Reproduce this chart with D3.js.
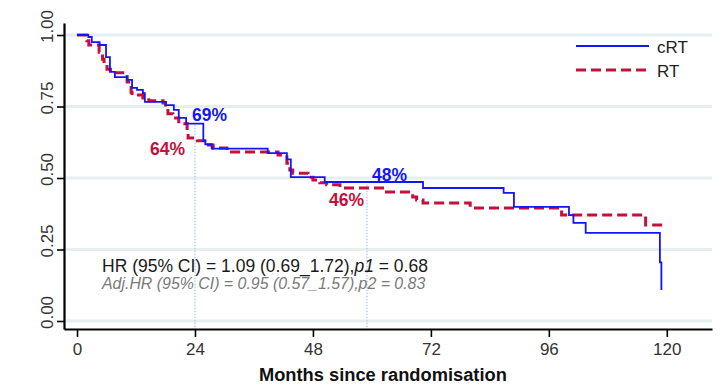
<!DOCTYPE html>
<html>
<head>
<meta charset="utf-8">
<script src="https://cdn.jsdelivr.net/npm/d3@7"></script>
<style>
  html, body { margin: 0; padding: 0; background: #fff; }
  svg { display: block; font-family: "Liberation Sans", Arial, Helvetica, sans-serif; }
</style>
</head>
<body>
<svg id="chart" width="720" height="385"></svg>
<script>
// Kaplan–Meier survival, cRT vs RT
const crtTime = [0, 2.3, 3.0, 4.6, 5.9, 6.7, 7.7, 10.2, 11.2, 12.2, 13.4, 13.8, 18.1, 19.7, 20.7, 22.2,
                 25.7, 26.1, 27.4, 38.8, 42.7, 43.5, 50.4, 70.4, 86.8, 88.9, 100.1, 101.0, 103.5, 118.6, 118.9];
const crtSurv = [1.0, 0.993, 0.975, 0.965, 0.923, 0.871, 0.853, 0.843, 0.815, 0.808, 0.797, 0.766, 0.755, 0.738, 0.71, 0.69,
                 0.63, 0.618, 0.603, 0.587, 0.565, 0.503, 0.486, 0.465, 0.448, 0.399, 0.37, 0.343, 0.308, 0.205, 0.108];

const rtTime = [0, 2.0, 2.4, 4.5, 5.2, 5.5, 6.1, 6.8, 10.2, 11.0, 11.2, 13.4, 14.6, 17.5, 18.0, 18.5, 19.5, 20.7,
                22.4, 22.6, 24.5, 26.0, 27.7, 30.5, 40.9, 42.7, 43.3, 43.9, 47.0, 48.0, 49.4, 50.8, 53.5, 62.6,
                68.3, 69.1, 70.4, 80.0, 98.6, 115.7, 119.2];
const rtSurv = [1.0, 0.98, 0.965, 0.94, 0.915, 0.90, 0.88, 0.868, 0.836, 0.80, 0.79, 0.78, 0.77, 0.762, 0.745, 0.725, 0.71, 0.69,
                0.665, 0.64, 0.63, 0.615, 0.605, 0.591, 0.58, 0.552, 0.528, 0.517, 0.503, 0.493, 0.483, 0.476, 0.465, 0.451,
                0.434, 0.423, 0.413, 0.395, 0.371, 0.336, 0.336];

// Landmark survival estimates
const landmarkMonths = [24, 59];
const crtLandmark = [0.69, 0.48];
const rtLandmark = [0.64, 0.46];

const xTicks = [0, 24, 48, 72, 96, 120];
const yTicks = [0, 0.25, 0.5, 0.75, 1];
const seriesNames = ["cRT", "RT"];
const xTitle = "Months since randomisation";
const statLines = ["HR (95% CI) = 1.09 (0.69_1.72),", "Adj.HR (95% CI) = 0.95 (0.57_1.57),p2 = 0.83"];

const svg = d3.select("#chart");

const x = d3.scaleLinear().domain([-2.65, 129.2]).range([64, 712]);
const y = d3.scaleLinear().domain([-0.028, 1.042]).range([329, 23]);

const BLUE = "#1414ff";
const RED = "#c4103a";

// gridlines
svg.append("g")
  .selectAll("line")
  .data(yTicks)
  .join("line")
  .attr("x1", x.range()[0]).attr("x2", x.range()[1])
  .attr("y1", d => y(d)).attr("y2", d => y(d))
  .attr("stroke", "#e6eef0")
  .attr("stroke-width", 3);

// landmark reference lines
svg.append("g")
  .selectAll("line")
  .data(landmarkMonths)
  .join("line")
  .attr("x1", d => x(d)).attr("x2", d => x(d))
  .attr("y1", (d, i) => y(crtLandmark[i]) + 1)
  .attr("y2", y.range()[0])
  .attr("stroke", "#a9c3ea")
  .attr("stroke-width", 1.2)
  .attr("stroke-dasharray", "1.5,1.5");

// axes
const xAxis = svg.append("g")
  .attr("transform", `translate(0,${y.range()[0]})`)
  .call(d3.axisBottom(x).tickValues(xTicks).tickSize(8).tickSizeOuter(0).tickPadding(6)
        .tickFormat(d3.format("d")));
const yAxis = svg.append("g")
  .attr("transform", `translate(${x.range()[0]},0)`)
  .call(d3.axisLeft(y).tickValues(yTicks).tickSize(7).tickSizeOuter(0).tickFormat(d3.format(".2f")));

[xAxis, yAxis].forEach(g => {
  g.select(".domain").attr("stroke", "#000").attr("stroke-width", 2.2);
  g.selectAll(".tick line").attr("stroke", "#000").attr("stroke-width", 1.6);
  g.selectAll(".tick text").attr("fill", "#333").style("font-size", "17px")
    .style("font-family", "'Liberation Sans', Arial, sans-serif");
});
xAxis.selectAll(".tick text").attr("dy", "0.71em");
yAxis.selectAll(".tick text")
  .attr("x", null).attr("dy", null)
  .attr("text-anchor", "middle")
  .attr("transform", "translate(-11,-9) rotate(-90)");

// axis title
svg.append("text")
  .attr("x", (x(0) + x(120)) / 2 + 11)
  .attr("y", 381)
  .attr("text-anchor", "middle")
  .attr("font-weight", "bold")
  .attr("font-size", 18.3)
  .attr("fill", "#111")
  .text(xTitle);

// survival curves
const step = d3.line().curve(d3.curveStepAfter).x(d => x(d[0])).y(d => y(d[1]));
const crtData = crtTime.map((t, i) => [t, crtSurv[i]]);
const rtData = rtTime.map((t, i) => [t, rtSurv[i]]);

svg.append("path")
  .attr("d", step(rtData))
  .attr("fill", "none")
  .attr("stroke", RED)
  .attr("stroke-width", 3)
  .attr("stroke-dasharray", "10,5");

svg.append("path")
  .attr("d", step(crtData))
  .attr("fill", "none")
  .attr("stroke", BLUE)
  .attr("stroke-width", 1.8);

// landmark percentages
const fmtPct = d3.format(".0%");
const crtLabelDx = [-3, 5];
const rtLabelDx = [-10, -3];
svg.append("g")
  .selectAll("text")
  .data(landmarkMonths)
  .join("text")
  .attr("x", (d, i) => x(d) + crtLabelDx[i])
  .attr("y", (d, i) => y(crtLandmark[i]) - 3)
  .attr("fill", BLUE)
  .attr("font-weight", "bold")
  .attr("font-size", 17.5)
  .text((d, i) => fmtPct(crtLandmark[i]));
svg.append("g")
  .selectAll("text")
  .data(landmarkMonths)
  .join("text")
  .attr("x", (d, i) => x(d) + rtLabelDx[i])
  .attr("y", (d, i) => y(rtLandmark[i]) + 17)
  .attr("text-anchor", "end")
  .attr("fill", RED)
  .attr("font-weight", "bold")
  .attr("font-size", 17.5)
  .text((d, i) => fmtPct(rtLandmark[i]));

// hazard ratio annotation
const stat1 = svg.append("text")
  .attr("x", 102).attr("y", 272)
  .attr("font-size", 17.5).attr("fill", "#1a1a1a");
stat1.append("tspan").text(statLines[0]);
stat1.append("tspan").attr("font-style", "italic").text("p1");
stat1.append("tspan").text(" = 0.68");
svg.append("text")
  .attr("x", 102).attr("y", 288.5)
  .attr("font-size", 15.9).attr("font-style", "italic").attr("fill", "#7a7a7a")
  .text(statLines[1]);

// legend
const legend = svg.append("g").attr("transform", "translate(576,0)");
const legendRows = [
  { name: seriesNames[0], color: BLUE, width: 1.8, dash: null, y: 46 },
  { name: seriesNames[1], color: RED, width: 3, dash: "10,5", y: 70 }
];
legendRows.forEach(r => {
  legend.append("line")
    .attr("x1", 0).attr("x2", 73).attr("y1", r.y).attr("y2", r.y)
    .attr("stroke", r.color).attr("stroke-width", r.width)
    .attr("stroke-dasharray", r.dash);
  legend.append("text")
    .attr("x", 81).attr("y", r.y + 7)
    .attr("font-size", 17).attr("fill", "#222")
    .text(r.name);
});
</script>
</body>
</html>
